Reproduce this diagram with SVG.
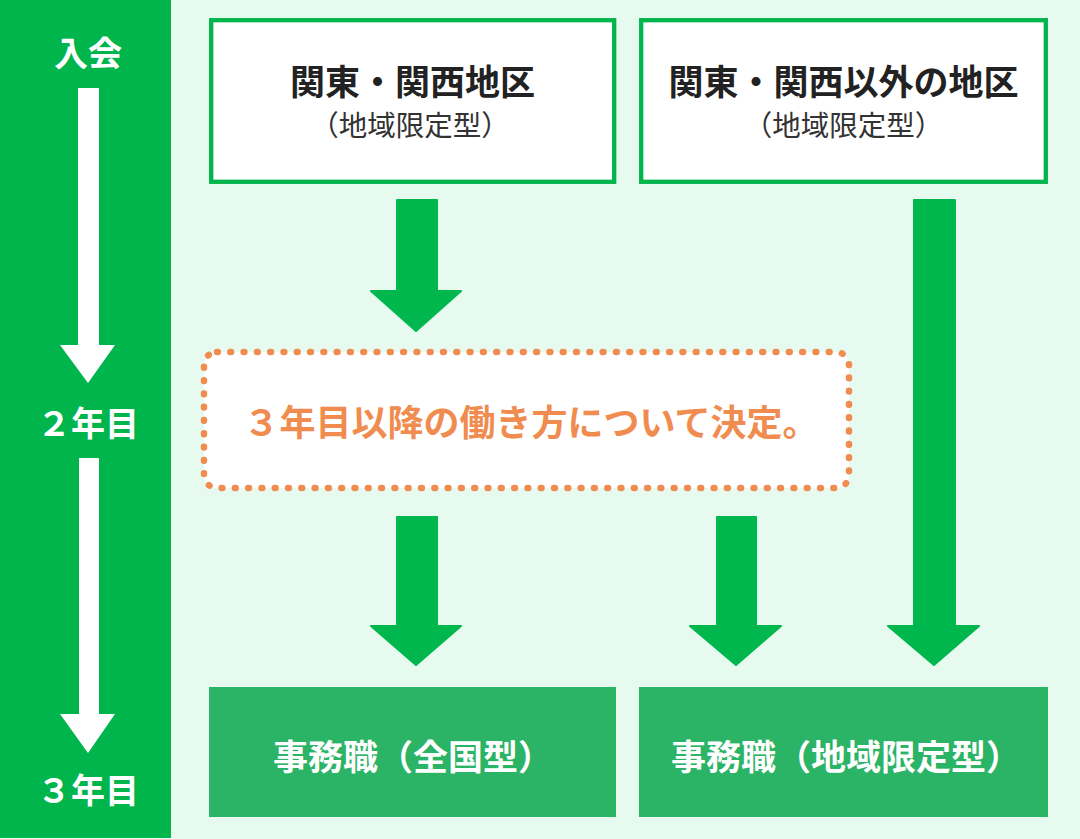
<svg xmlns="http://www.w3.org/2000/svg" width="1080" height="839" viewBox="0 0 1080 839">
  <style>
    .jp { font-family: "Noto Sans CJK JP", "Noto Sans", sans-serif; }
    .side { font-size: 34px; font-weight: 700; fill: #ffffff; text-anchor: middle; }
    .head { font-size: 35px; font-weight: 700; fill: #222222; text-anchor: middle; }
    .sub { font-size: 28.5px; font-weight: 400; fill: #333333; text-anchor: middle; }
    .res { font-size: 35px; font-weight: 700; fill: #ffffff; text-anchor: middle; }
    .note { font-size: 36px; font-weight: 700; fill: #F08C4F; text-anchor: middle; }
    .topbox { fill: #ffffff; stroke: #00B54C; stroke-width: 4.3; }
    .botbox { fill: #2BB366; }
    .garrow { fill: #00B74E; stroke: #00B74E; stroke-width: 2; stroke-linejoin: round; }
    .warrow { fill: #ffffff; }
  </style>
  <rect x="0" y="0" width="1080" height="839" fill="#E6FAF0"/>
  <g id="timeline">
    <rect x="0" y="0" width="171" height="838" fill="#00B54C"/>
    <text class="jp side" x="88" y="65.5">入会</text>
    <path class="warrow" d="M78 88 H99 V345 H115 L88 383 L60 345 H78 Z"/>
    <text class="jp side" x="88" y="435.5">２年目</text>
    <path class="warrow" d="M79 458 H99 V714 H115 L88 753 L60 714 H79 Z"/>
    <text class="jp side" x="88" y="802.5">３年目</text>
  </g>
  <g id="node-kanto-kansai">
    <rect class="topbox" x="211.2" y="20.2" width="403" height="161.6"/>
    <text class="jp head" x="412.5" y="94.5">関東・関西地区</text>
    <text class="jp sub" x="410" y="136">（地域限定型）</text>
  </g>
  <g id="node-other-region">
    <rect class="topbox" x="641.2" y="20.2" width="404.6" height="161.6"/>
    <text class="jp head" x="843.5" y="94.5">関東・関西以外の地区</text>
    <text class="jp sub" x="843.5" y="136">（地域限定型）</text>
  </g>
  <g id="node-decision">
    <rect x="204" y="352" width="645" height="136" rx="13" ry="13" fill="#ffffff" stroke="#F08C4F" stroke-width="6.5" stroke-linecap="round" stroke-dasharray="0.8 12.5"/>
    <text class="jp note" x="531" y="435.5">３年目以降の働き方について決定。</text>
  </g>
  <g id="node-general">
    <rect class="botbox" x="209" y="687" width="407" height="130"/>
    <text class="jp res" x="413" y="770">事務職（全国型）</text>
  </g>
  <g id="node-regional">
    <rect class="botbox" x="639" y="687" width="409" height="130"/>
    <text class="jp res" x="846" y="770">事務職（地域限定型）</text>
  </g>
  <g id="connectors">
    <path class="garrow" d="M397 200 H437 V291 H461 L416 331 L371 291 H397 Z"/>
    <path class="garrow" d="M397 517 H437 V626 H461 L416 665 L371 626 H397 Z"/>
    <path class="garrow" d="M717 517 H756 V626 H781 L736 665 L690 626 H717 Z"/>
    <path class="garrow" d="M914 200 H955 V626 H979 L934 665 L888 626 H914 Z"/>
  </g>
</svg>
